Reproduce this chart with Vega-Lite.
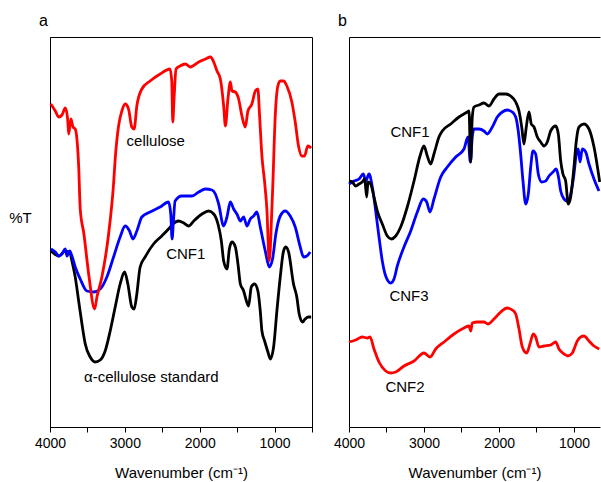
{
  "$schema": "https://vega.github.io/schema/vega-lite/v6.json",
  "padding": {"left": 8, "top": 12, "right": 0, "bottom": 2},
  "bounds": "flush",
  "spacing": 37,
  "config": {
    "font": "Liberation Sans",
    "axis": {"domainColor": "#000", "tickColor": "#000", "labelColor": "#000", "titleColor": "#000", "labelFontSize": 14, "titleFontSize": 15, "titleFontWeight": "normal", "grid": false, "labelFont": "Liberation Sans", "titleFont": "Liberation Sans"},
    "title": {"fontSize": 16, "fontWeight": "normal", "anchor": "start", "frame": "group", "color": "#000", "baseline": "alphabetic", "font": "Liberation Sans"},
    "view": {"stroke": "#000"},
    "text": {"font": "Liberation Sans"},
    "line": {"interpolate": "monotone", "strokeWidth": 2.8, "clip": true}
  },
  "datasets": {
    "a_cell": [
      {"series":"cellulose","wn":3990,"t":323},{"series":"cellulose","wn":3929,"t":316},{"series":"cellulose","wn":3884,"t":310},{"series":"cellulose","wn":3840,"t":312},{"series":"cellulose","wn":3796,"t":319},{"series":"cellulose","wn":3764,"t":308},{"series":"cellulose","wn":3751,"t":293},{"series":"cellulose","wn":3720,"t":308},{"series":"cellulose","wn":3693,"t":300},{"series":"cellulose","wn":3663,"t":298},{"series":"cellulose","wn":3617,"t":261},{"series":"cellulose","wn":3596,"t":218},{"series":"cellulose","wn":3547,"t":193},{"series":"cellulose","wn":3480,"t":151},{"series":"cellulose","wn":3404,"t":118},{"series":"cellulose","wn":3373,"t":130},{"series":"cellulose","wn":3307,"t":150},{"series":"cellulose","wn":3217,"t":193},{"series":"cellulose","wn":3151,"t":243},{"series":"cellulose","wn":3129,"t":268},{"series":"cellulose","wn":3084,"t":301},{"series":"cellulose","wn":3040,"t":316},{"series":"cellulose","wn":2996,"t":323},{"series":"cellulose","wn":2951,"t":318},{"series":"cellulose","wn":2907,"t":300},{"series":"cellulose","wn":2876,"t":298},{"series":"cellulose","wn":2840,"t":321},{"series":"cellulose","wn":2773,"t":338},{"series":"cellulose","wn":2663,"t":346},{"series":"cellulose","wn":2529,"t":353},{"series":"cellulose","wn":2396,"t":358},{"series":"cellulose","wn":2373,"t":345},{"series":"cellulose","wn":2360,"t":305},{"series":"cellulose","wn":2343,"t":328},{"series":"cellulose","wn":2316,"t":358},{"series":"cellulose","wn":2263,"t":361},{"series":"cellulose","wn":2191,"t":363},{"series":"cellulose","wn":2124,"t":360},{"series":"cellulose","wn":2013,"t":365},{"series":"cellulose","wn":1924,"t":368},{"series":"cellulose","wn":1857,"t":370},{"series":"cellulose","wn":1813,"t":365},{"series":"cellulose","wn":1769,"t":356},{"series":"cellulose","wn":1724,"t":348},{"series":"cellulose","wn":1680,"t":321},{"series":"cellulose","wn":1657,"t":301},{"series":"cellulose","wn":1623,"t":328},{"series":"cellulose","wn":1591,"t":345},{"series":"cellulose","wn":1569,"t":336},{"series":"cellulose","wn":1524,"t":335},{"series":"cellulose","wn":1480,"t":328},{"series":"cellulose","wn":1436,"t":311},{"series":"cellulose","wn":1391,"t":300},{"series":"cellulose","wn":1356,"t":316},{"series":"cellulose","wn":1303,"t":323},{"series":"cellulose","wn":1257,"t":336},{"series":"cellulose","wn":1223,"t":338},{"series":"cellulose","wn":1200,"t":311},{"series":"cellulose","wn":1169,"t":271},{"series":"cellulose","wn":1133,"t":245},{"series":"cellulose","wn":1103,"t":218},{"series":"cellulose","wn":1071,"t":166},{"series":"cellulose","wn":1036,"t":218},{"series":"cellulose","wn":1023,"t":243},{"series":"cellulose","wn":991,"t":311},{"series":"cellulose","wn":956,"t":341},{"series":"cellulose","wn":924,"t":346},{"series":"cellulose","wn":880,"t":346},{"series":"cellulose","wn":836,"t":341},{"series":"cellulose","wn":769,"t":325},{"series":"cellulose","wn":724,"t":305},{"series":"cellulose","wn":680,"t":281},{"series":"cellulose","wn":636,"t":271},{"series":"cellulose","wn":600,"t":271},{"series":"cellulose","wn":556,"t":281},{"series":"cellulose","wn":511,"t":279}
    ],
    "a_cnf1": [
      {"series":"CNF1","wn":3987,"t":178},{"series":"CNF1","wn":3929,"t":175},{"series":"CNF1","wn":3884,"t":171},{"series":"CNF1","wn":3840,"t":173},{"series":"CNF1","wn":3796,"t":178},{"series":"CNF1","wn":3773,"t":171},{"series":"CNF1","wn":3737,"t":176},{"series":"CNF1","wn":3707,"t":171},{"series":"CNF1","wn":3663,"t":160},{"series":"CNF1","wn":3596,"t":148},{"series":"CNF1","wn":3507,"t":136},{"series":"CNF1","wn":3417,"t":135},{"series":"CNF1","wn":3329,"t":138},{"series":"CNF1","wn":3240,"t":150},{"series":"CNF1","wn":3151,"t":170},{"series":"CNF1","wn":3063,"t":190},{"series":"CNF1","wn":2996,"t":201},{"series":"CNF1","wn":2937,"t":196},{"series":"CNF1","wn":2893,"t":188},{"series":"CNF1","wn":2840,"t":196},{"series":"CNF1","wn":2773,"t":210},{"series":"CNF1","wn":2663,"t":215},{"series":"CNF1","wn":2529,"t":220},{"series":"CNF1","wn":2417,"t":225},{"series":"CNF1","wn":2387,"t":213},{"series":"CNF1","wn":2369,"t":188},{"series":"CNF1","wn":2351,"t":206},{"series":"CNF1","wn":2329,"t":226},{"series":"CNF1","wn":2240,"t":231},{"series":"CNF1","wn":2191,"t":231},{"series":"CNF1","wn":2103,"t":231},{"series":"CNF1","wn":2013,"t":235},{"series":"CNF1","wn":1924,"t":238},{"series":"CNF1","wn":1836,"t":237},{"series":"CNF1","wn":1791,"t":233},{"series":"CNF1","wn":1747,"t":223},{"series":"CNF1","wn":1680,"t":201},{"series":"CNF1","wn":1636,"t":210},{"series":"CNF1","wn":1591,"t":225},{"series":"CNF1","wn":1547,"t":218},{"series":"CNF1","wn":1503,"t":213},{"series":"CNF1","wn":1457,"t":206},{"series":"CNF1","wn":1413,"t":210},{"series":"CNF1","wn":1369,"t":201},{"series":"CNF1","wn":1324,"t":208},{"series":"CNF1","wn":1280,"t":211},{"series":"CNF1","wn":1236,"t":215},{"series":"CNF1","wn":1191,"t":200},{"series":"CNF1","wn":1124,"t":176},{"series":"CNF1","wn":1071,"t":160},{"series":"CNF1","wn":1027,"t":168},{"series":"CNF1","wn":983,"t":193},{"series":"CNF1","wn":924,"t":211},{"series":"CNF1","wn":857,"t":216},{"series":"CNF1","wn":791,"t":211},{"series":"CNF1","wn":724,"t":200},{"series":"CNF1","wn":657,"t":180},{"series":"CNF1","wn":613,"t":170},{"series":"CNF1","wn":569,"t":171},{"series":"CNF1","wn":524,"t":175}
    ],
    "a_alpha": [
      {"series":"alpha-cellulose standard","wn":3987,"t":176},{"series":"alpha-cellulose standard","wn":3880,"t":171},{"series":"alpha-cellulose standard","wn":3800,"t":176},{"series":"alpha-cellulose standard","wn":3729,"t":173},{"series":"alpha-cellulose standard","wn":3707,"t":166},{"series":"alpha-cellulose standard","wn":3663,"t":150},{"series":"alpha-cellulose standard","wn":3617,"t":126},{"series":"alpha-cellulose standard","wn":3573,"t":103},{"series":"alpha-cellulose standard","wn":3529,"t":83},{"series":"alpha-cellulose standard","wn":3463,"t":70},{"series":"alpha-cellulose standard","wn":3396,"t":65},{"series":"alpha-cellulose standard","wn":3329,"t":67},{"series":"alpha-cellulose standard","wn":3263,"t":76},{"series":"alpha-cellulose standard","wn":3196,"t":96},{"series":"alpha-cellulose standard","wn":3129,"t":120},{"series":"alpha-cellulose standard","wn":3063,"t":143},{"series":"alpha-cellulose standard","wn":3004,"t":155},{"series":"alpha-cellulose standard","wn":2960,"t":143},{"series":"alpha-cellulose standard","wn":2907,"t":120},{"series":"alpha-cellulose standard","wn":2876,"t":118},{"series":"alpha-cellulose standard","wn":2840,"t":133},{"series":"alpha-cellulose standard","wn":2796,"t":160},{"series":"alpha-cellulose standard","wn":2729,"t":170},{"series":"alpha-cellulose standard","wn":2617,"t":183},{"series":"alpha-cellulose standard","wn":2507,"t":191},{"series":"alpha-cellulose standard","wn":2417,"t":198},{"series":"alpha-cellulose standard","wn":2360,"t":203},{"series":"alpha-cellulose standard","wn":2284,"t":206},{"series":"alpha-cellulose standard","wn":2213,"t":204},{"series":"alpha-cellulose standard","wn":2147,"t":201},{"series":"alpha-cellulose standard","wn":2080,"t":206},{"series":"alpha-cellulose standard","wn":1969,"t":213},{"series":"alpha-cellulose standard","wn":1880,"t":216},{"series":"alpha-cellulose standard","wn":1813,"t":213},{"series":"alpha-cellulose standard","wn":1756,"t":203},{"series":"alpha-cellulose standard","wn":1711,"t":186},{"series":"alpha-cellulose standard","wn":1680,"t":166},{"series":"alpha-cellulose standard","wn":1636,"t":158},{"series":"alpha-cellulose standard","wn":1604,"t":178},{"series":"alpha-cellulose standard","wn":1569,"t":185},{"series":"alpha-cellulose standard","wn":1524,"t":180},{"series":"alpha-cellulose standard","wn":1489,"t":163},{"series":"alpha-cellulose standard","wn":1457,"t":143},{"series":"alpha-cellulose standard","wn":1413,"t":136},{"series":"alpha-cellulose standard","wn":1391,"t":130},{"series":"alpha-cellulose standard","wn":1347,"t":121},{"series":"alpha-cellulose standard","wn":1311,"t":140},{"series":"alpha-cellulose standard","wn":1267,"t":143},{"series":"alpha-cellulose standard","wn":1223,"t":136},{"series":"alpha-cellulose standard","wn":1191,"t":116},{"series":"alpha-cellulose standard","wn":1169,"t":96},{"series":"alpha-cellulose standard","wn":1133,"t":86},{"series":"alpha-cellulose standard","wn":1089,"t":75},{"series":"alpha-cellulose standard","wn":1057,"t":68},{"series":"alpha-cellulose standard","wn":1013,"t":80},{"series":"alpha-cellulose standard","wn":969,"t":116},{"series":"alpha-cellulose standard","wn":924,"t":150},{"series":"alpha-cellulose standard","wn":880,"t":176},{"series":"alpha-cellulose standard","wn":849,"t":180},{"series":"alpha-cellulose standard","wn":813,"t":175},{"series":"alpha-cellulose standard","wn":747,"t":143},{"series":"alpha-cellulose standard","wn":703,"t":130},{"series":"alpha-cellulose standard","wn":671,"t":113},{"series":"alpha-cellulose standard","wn":627,"t":105},{"series":"alpha-cellulose standard","wn":591,"t":108},{"series":"alpha-cellulose standard","wn":547,"t":110},{"series":"alpha-cellulose standard","wn":511,"t":110}
    ],
    "b_cnf1": [
      {"series":"CNF1","wn":4000,"t":246},{"series":"CNF1","wn":3956,"t":245},{"series":"CNF1","wn":3911,"t":241},{"series":"CNF1","wn":3867,"t":243},{"series":"CNF1","wn":3823,"t":245},{"series":"CNF1","wn":3791,"t":248},{"series":"CNF1","wn":3764,"t":230},{"series":"CNF1","wn":3747,"t":245},{"series":"CNF1","wn":3711,"t":243},{"series":"CNF1","wn":3667,"t":230},{"series":"CNF1","wn":3623,"t":216},{"series":"CNF1","wn":3556,"t":203},{"series":"CNF1","wn":3489,"t":191},{"series":"CNF1","wn":3436,"t":188},{"series":"CNF1","wn":3377,"t":191},{"series":"CNF1","wn":3311,"t":200},{"series":"CNF1","wn":3223,"t":220},{"series":"CNF1","wn":3133,"t":246},{"series":"CNF1","wn":3053,"t":271},{"series":"CNF1","wn":3000,"t":281},{"series":"CNF1","wn":2956,"t":271},{"series":"CNF1","wn":2911,"t":263},{"series":"CNF1","wn":2867,"t":273},{"series":"CNF1","wn":2800,"t":290},{"series":"CNF1","wn":2756,"t":296},{"series":"CNF1","wn":2644,"t":303},{"series":"CNF1","wn":2533,"t":310},{"series":"CNF1","wn":2423,"t":315},{"series":"CNF1","wn":2400,"t":316},{"series":"CNF1","wn":2377,"t":265},{"series":"CNF1","wn":2356,"t":310},{"series":"CNF1","wn":2333,"t":320},{"series":"CNF1","wn":2267,"t":322},{"series":"CNF1","wn":2200,"t":324},{"series":"CNF1","wn":2133,"t":321},{"series":"CNF1","wn":2067,"t":328},{"series":"CNF1","wn":2000,"t":333},{"series":"CNF1","wn":1911,"t":333},{"series":"CNF1","wn":1844,"t":331},{"series":"CNF1","wn":1777,"t":325},{"series":"CNF1","wn":1733,"t":316},{"series":"CNF1","wn":1697,"t":300},{"series":"CNF1","wn":1667,"t":283},{"series":"CNF1","wn":1636,"t":300},{"series":"CNF1","wn":1600,"t":315},{"series":"CNF1","wn":1569,"t":303},{"series":"CNF1","wn":1533,"t":300},{"series":"CNF1","wn":1489,"t":290},{"series":"CNF1","wn":1444,"t":285},{"series":"CNF1","wn":1400,"t":281},{"series":"CNF1","wn":1356,"t":285},{"series":"CNF1","wn":1311,"t":296},{"series":"CNF1","wn":1244,"t":301},{"series":"CNF1","wn":1209,"t":293},{"series":"CNF1","wn":1177,"t":266},{"series":"CNF1","wn":1147,"t":253},{"series":"CNF1","wn":1111,"t":246},{"series":"CNF1","wn":1076,"t":223},{"series":"CNF1","wn":1044,"t":230},{"series":"CNF1","wn":1000,"t":260},{"series":"CNF1","wn":969,"t":286},{"series":"CNF1","wn":933,"t":300},{"series":"CNF1","wn":867,"t":303},{"series":"CNF1","wn":800,"t":298},{"series":"CNF1","wn":733,"t":280},{"series":"CNF1","wn":657,"t":245}
    ],
    "b_cnf3": [
      {"series":"CNF3","wn":4000,"t":243},{"series":"CNF3","wn":3933,"t":246},{"series":"CNF3","wn":3867,"t":248},{"series":"CNF3","wn":3809,"t":253},{"series":"CNF3","wn":3777,"t":246},{"series":"CNF3","wn":3733,"t":253},{"series":"CNF3","wn":3689,"t":240},{"series":"CNF3","wn":3644,"t":216},{"series":"CNF3","wn":3600,"t":190},{"series":"CNF3","wn":3556,"t":166},{"series":"CNF3","wn":3511,"t":151},{"series":"CNF3","wn":3444,"t":144},{"series":"CNF3","wn":3400,"t":148},{"series":"CNF3","wn":3356,"t":161},{"series":"CNF3","wn":3267,"t":180},{"series":"CNF3","wn":3177,"t":196},{"series":"CNF3","wn":3089,"t":215},{"series":"CNF3","wn":3009,"t":228},{"series":"CNF3","wn":2964,"t":225},{"series":"CNF3","wn":2920,"t":215},{"series":"CNF3","wn":2867,"t":228},{"series":"CNF3","wn":2777,"t":250},{"series":"CNF3","wn":2689,"t":260},{"series":"CNF3","wn":2577,"t":270},{"series":"CNF3","wn":2467,"t":278},{"series":"CNF3","wn":2413,"t":290},{"series":"CNF3","wn":2382,"t":265},{"series":"CNF3","wn":2356,"t":290},{"series":"CNF3","wn":2333,"t":298},{"series":"CNF3","wn":2267,"t":298},{"series":"CNF3","wn":2200,"t":296},{"series":"CNF3","wn":2156,"t":293},{"series":"CNF3","wn":2089,"t":300},{"series":"CNF3","wn":2023,"t":310},{"series":"CNF3","wn":1956,"t":315},{"series":"CNF3","wn":1889,"t":317},{"series":"CNF3","wn":1823,"t":315},{"series":"CNF3","wn":1777,"t":310},{"series":"CNF3","wn":1743,"t":296},{"series":"CNF3","wn":1711,"t":273},{"series":"CNF3","wn":1680,"t":246},{"series":"CNF3","wn":1644,"t":223},{"series":"CNF3","wn":1609,"t":233},{"series":"CNF3","wn":1577,"t":260},{"series":"CNF3","wn":1547,"t":276},{"series":"CNF3","wn":1511,"t":273},{"series":"CNF3","wn":1476,"t":253},{"series":"CNF3","wn":1431,"t":245},{"series":"CNF3","wn":1377,"t":246},{"series":"CNF3","wn":1333,"t":251},{"series":"CNF3","wn":1280,"t":255},{"series":"CNF3","wn":1236,"t":258},{"series":"CNF3","wn":1209,"t":251},{"series":"CNF3","wn":1177,"t":236},{"series":"CNF3","wn":1133,"t":228},{"series":"CNF3","wn":1089,"t":226},{"series":"CNF3","wn":1044,"t":233},{"series":"CNF3","wn":1000,"t":253},{"series":"CNF3","wn":969,"t":273},{"series":"CNF3","wn":943,"t":278},{"series":"CNF3","wn":920,"t":265},{"series":"CNF3","wn":889,"t":278},{"series":"CNF3","wn":844,"t":275},{"series":"CNF3","wn":800,"t":263},{"series":"CNF3","wn":733,"t":248},{"series":"CNF3","wn":667,"t":236}
    ],
    "b_cnf2": [
      {"series":"CNF2","wn":4000,"t":85},{"series":"CNF2","wn":3911,"t":87},{"series":"CNF2","wn":3823,"t":90},{"series":"CNF2","wn":3756,"t":89},{"series":"CNF2","wn":3720,"t":90},{"series":"CNF2","wn":3667,"t":78},{"series":"CNF2","wn":3600,"t":65},{"series":"CNF2","wn":3511,"t":56},{"series":"CNF2","wn":3444,"t":54},{"series":"CNF2","wn":3377,"t":55},{"series":"CNF2","wn":3267,"t":61},{"series":"CNF2","wn":3133,"t":66},{"series":"CNF2","wn":3000,"t":74},{"series":"CNF2","wn":2920,"t":70},{"series":"CNF2","wn":2844,"t":78},{"series":"CNF2","wn":2733,"t":85},{"series":"CNF2","wn":2600,"t":93},{"series":"CNF2","wn":2467,"t":99},{"series":"CNF2","wn":2400,"t":101},{"series":"CNF2","wn":2377,"t":96},{"series":"CNF2","wn":2356,"t":104},{"series":"CNF2","wn":2289,"t":105},{"series":"CNF2","wn":2200,"t":105},{"series":"CNF2","wn":2147,"t":103},{"series":"CNF2","wn":2067,"t":108},{"series":"CNF2","wn":1977,"t":115},{"series":"CNF2","wn":1889,"t":119},{"series":"CNF2","wn":1823,"t":117},{"series":"CNF2","wn":1777,"t":113},{"series":"CNF2","wn":1733,"t":98},{"series":"CNF2","wn":1689,"t":80},{"series":"CNF2","wn":1631,"t":74},{"series":"CNF2","wn":1587,"t":83},{"series":"CNF2","wn":1543,"t":93},{"series":"CNF2","wn":1511,"t":90},{"series":"CNF2","wn":1467,"t":80},{"series":"CNF2","wn":1400,"t":81},{"series":"CNF2","wn":1311,"t":82},{"series":"CNF2","wn":1244,"t":85},{"series":"CNF2","wn":1200,"t":78},{"series":"CNF2","wn":1133,"t":73},{"series":"CNF2","wn":1080,"t":71},{"series":"CNF2","wn":1022,"t":74},{"series":"CNF2","wn":956,"t":86},{"series":"CNF2","wn":911,"t":90},{"series":"CNF2","wn":867,"t":91},{"series":"CNF2","wn":800,"t":86},{"series":"CNF2","wn":733,"t":81},{"series":"CNF2","wn":663,"t":78}
    ],
    "a_labels": [
      {"label":"cellulose","wn":2587,"t":286},
      {"label":"CNF1","wn":2187,"t":173},
      {"label":"α-cellulose standard","wn":2647,"t":50}
    ],
    "b_labels": [
      {"label":"CNF1","wn":3187,"t":295},
      {"label":"CNF3","wn":3200,"t":131},
      {"label":"CNF2","wn":3253,"t":40}
    ]
  },
  "hconcat": [
    {
      "width": 262,
      "height": 390,
      "title": {"text": "a", "dx": -11, "offset": 8},
      "encoding": {
        "x": {"field": "wn", "type": "quantitative",
          "scale": {"domain": [500, 4000], "reverse": true, "nice": false, "zero": false},
          "axis": {"orient": "bottom", "values": [4000, 3500, 3000, 2500, 2000, 1500, 1000, 500], "format": "d", "labelExpr": "datum.value % 1000 === 0 ? datum.label : ''", "tickSize": 5, "labelPadding": 4, "title": "Wavenumber (cm⁻¹)", "titlePadding": 15, "labelFlush": false, "labelOverlap": false}},
        "y": {"field": "t", "type": "quantitative",
          "scale": {"domain": [0, 390], "nice": false, "zero": false},
          "axis": {"title": "%T", "titleAngle": 0, "titleX": -30, "titleY": 180, "titleAlign": "center", "titleBaseline": "middle", "ticks": false, "labels": false, "domain": true}}
      },
      "layer": [
        {"data": {"name": "a_alpha"}, "mark": {"type": "line", "color": "#000000"}},
        {"data": {"name": "a_cnf1"}, "mark": {"type": "line", "color": "#0000ff"}},
        {"data": {"name": "a_cell"}, "mark": {"type": "line", "color": "#ff0000"}},
        {"data": {"name": "a_labels"}, "mark": {"type": "text", "fontSize": 15, "align": "center", "baseline": "middle", "color": "#000"}, "encoding": {"text": {"field": "label"}}}
      ]
    },
    {
      "width": 251,
      "height": 390,
      "view": {"stroke": null},
      "title": {"text": "b", "dx": -11, "offset": 8},
      "resolve": {"axis": {"x": "independent"}},
      "layer": [
        {
          "encoding": {
            "x": {"field": "wn", "type": "quantitative",
              "scale": {"domain": [653, 4000], "reverse": true, "nice": false, "zero": false},
              "axis": {"orient": "bottom", "values": [4000, 3500, 3000, 2500, 2000, 1500, 1000], "format": "d", "labelExpr": "datum.value % 1000 === 0 ? datum.label : ''", "tickSize": 5, "labelPadding": 4, "title": "Wavenumber (cm⁻¹)", "titlePadding": 15, "labelFlush": false, "labelOverlap": false}},
            "y": {"field": "t", "type": "quantitative",
              "scale": {"domain": [0, 390], "nice": false, "zero": false},
              "axis": {"title": null, "ticks": false, "labels": false, "domain": true}}
          },
          "layer": [
            {"data": {"name": "b_cnf3"}, "mark": {"type": "line", "color": "#0000ff"}},
            {"data": {"name": "b_cnf1"}, "mark": {"type": "line", "color": "#000000"}},
            {"data": {"name": "b_cnf2"}, "mark": {"type": "line", "color": "#ff0000"}}
          ]
        },
        {
          "data": {"name": "b_labels"},
          "mark": {"type": "text", "fontSize": 15, "align": "center", "baseline": "middle", "color": "#000"},
          "encoding": {
            "text": {"field": "label"},
            "x": {"field": "wn", "type": "quantitative",
              "scale": {"domain": [653, 4000], "reverse": true, "nice": false, "zero": false},
              "axis": {"orient": "top", "ticks": false, "labels": false, "title": null, "domain": true}},
            "y": {"field": "t", "type": "quantitative", "scale": {"domain": [0, 390], "nice": false, "zero": false}}
          }
        }
      ]
    }
  ]
}
